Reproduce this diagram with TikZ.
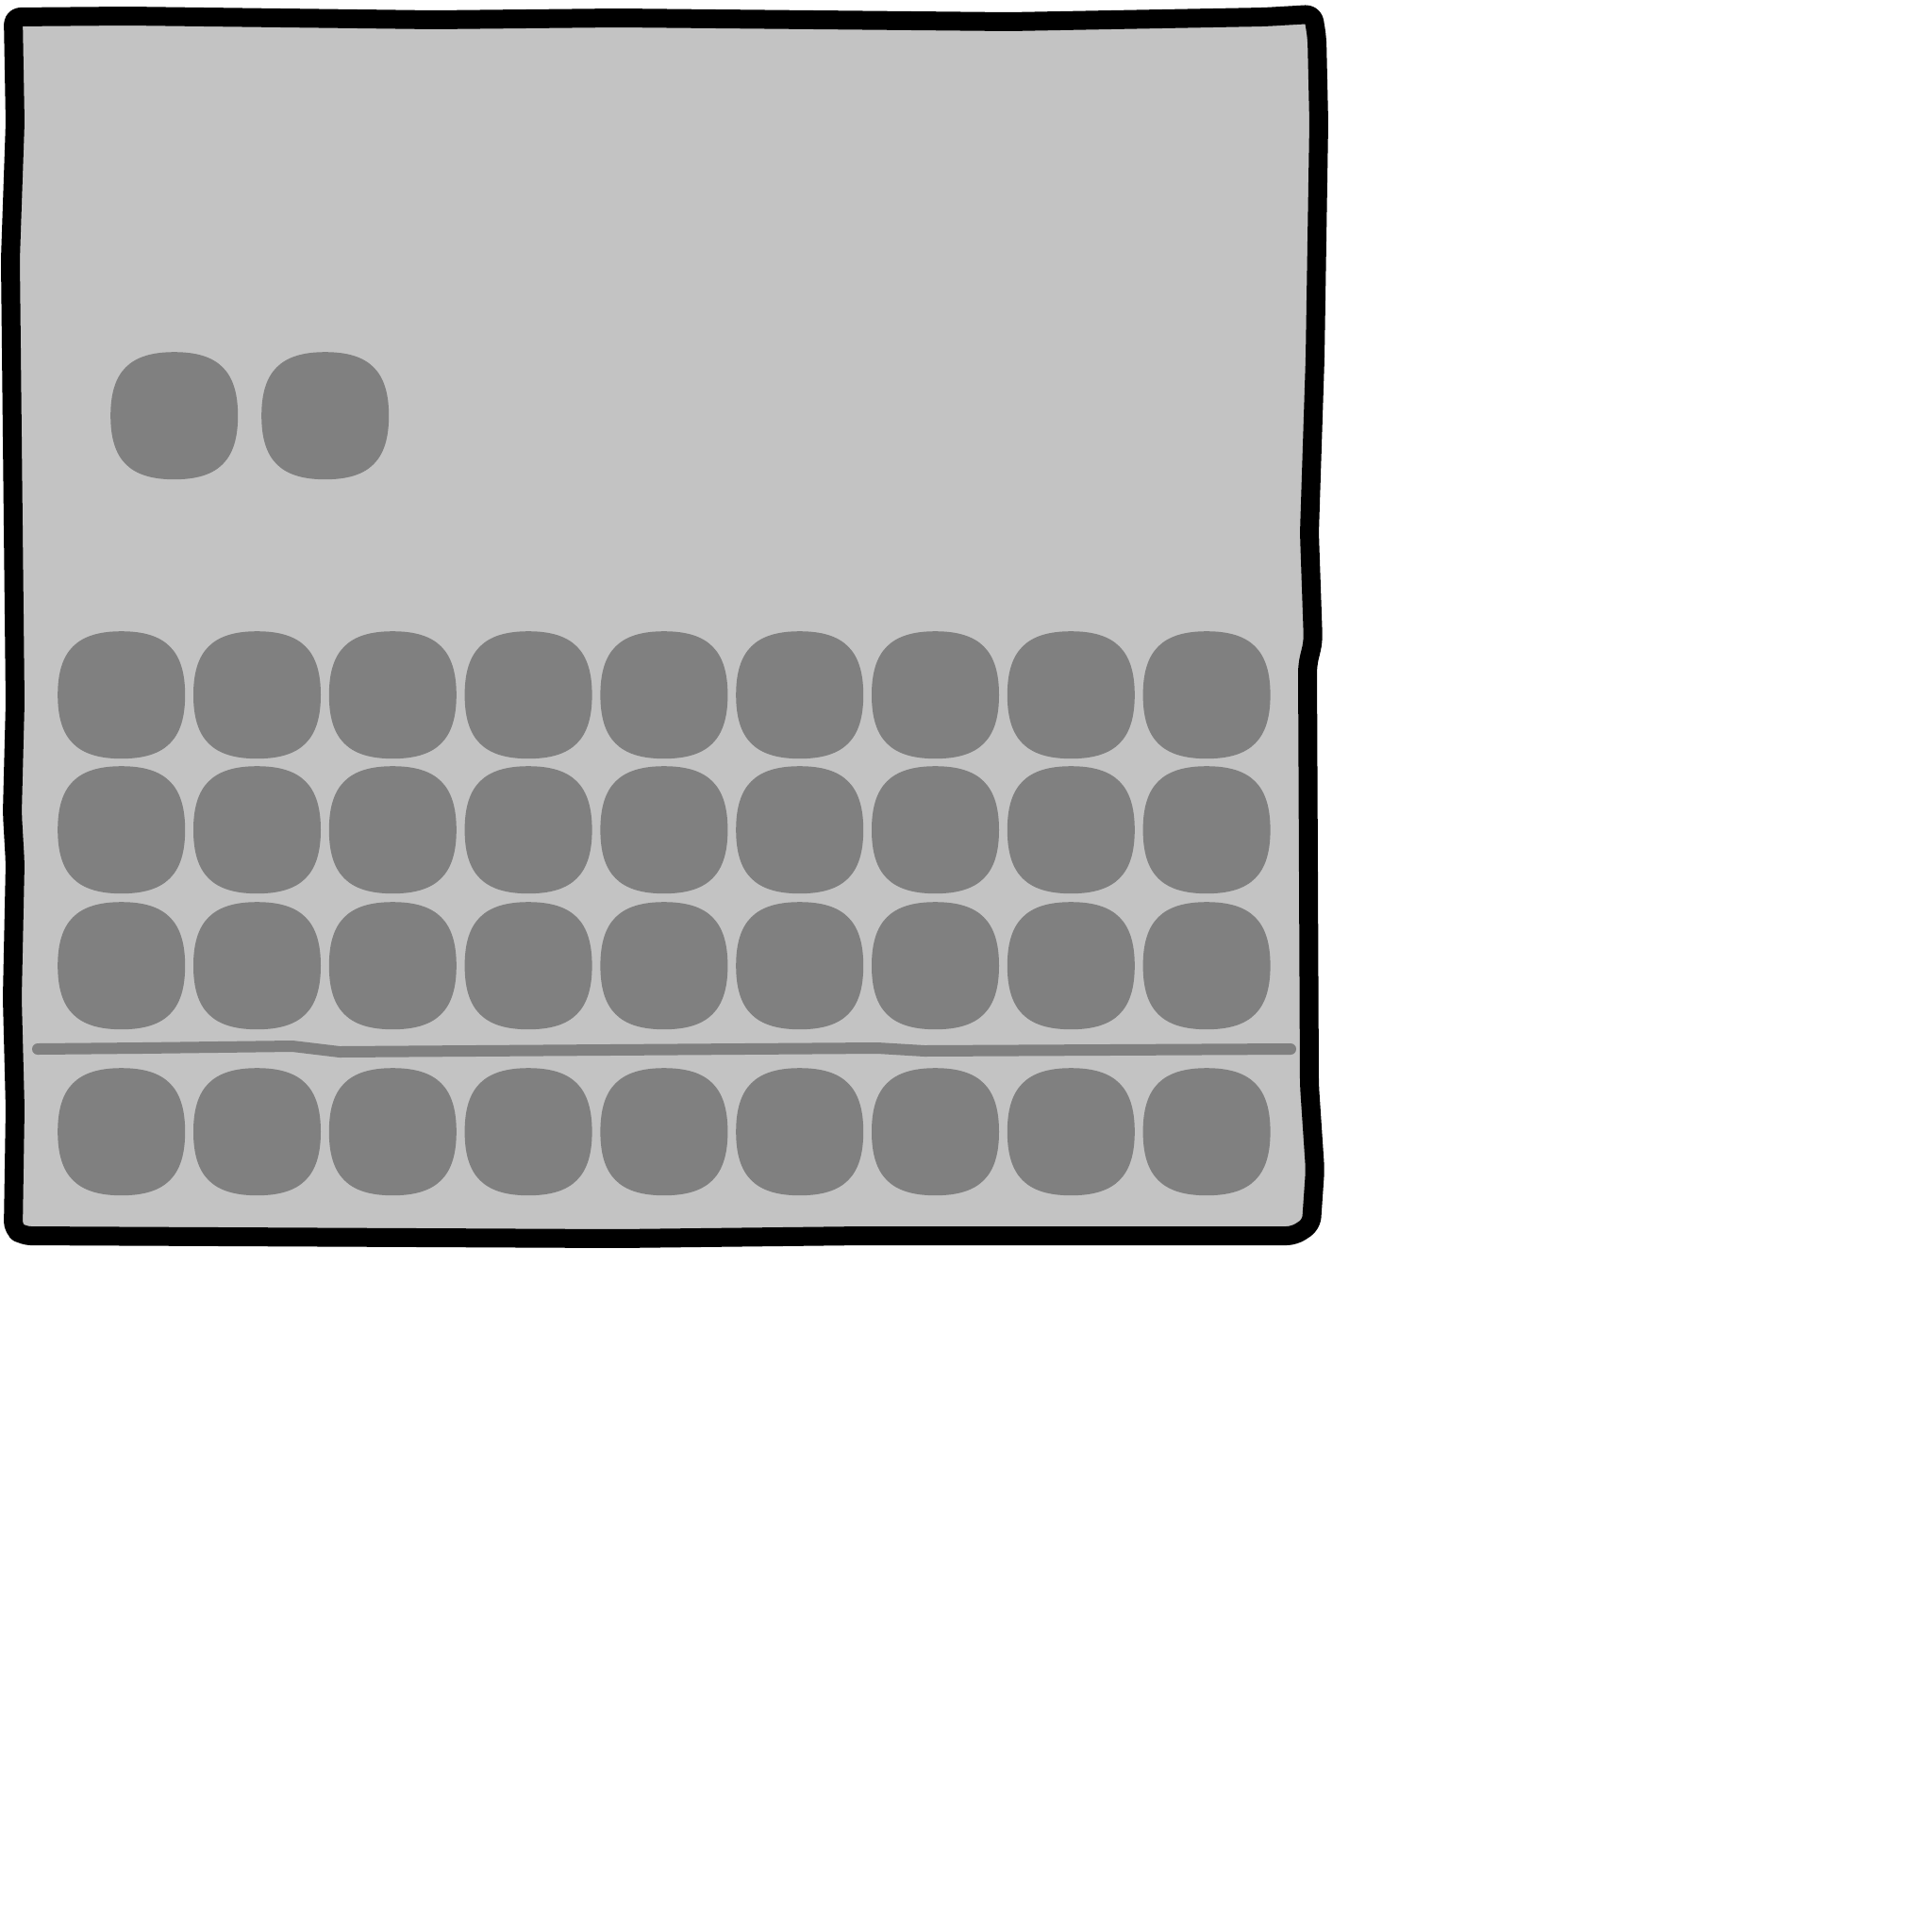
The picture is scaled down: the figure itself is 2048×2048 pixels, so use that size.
\documentclass[tikz,border=0pt]{standalone}
\newcommand{\blobshape}[1]{%
  \fill[blobgray] ([shift={(0,-67.5)}]#1.center)
    .. controls ([shift={(47,-67.5)}]#1.center) and ([shift={(67.5,-47)}]#1.center) .. ([shift={(67.5,0)}]#1.center)
    .. controls ([shift={(67.5,47)}]#1.center) and ([shift={(47,67.5)}]#1.center) .. ([shift={(0,67.5)}]#1.center)
    .. controls ([shift={(-47,67.5)}]#1.center) and ([shift={(-67.5,47)}]#1.center) .. ([shift={(-67.5,0)}]#1.center)
    .. controls ([shift={(-67.5,-47)}]#1.center) and ([shift={(-47,-67.5)}]#1.center) .. ([shift={(0,-67.5)}]#1.center) -- cycle;}
\begin{document}
\begin{tikzpicture}[x=1pt,y=-1pt,
  blob/.style={rectangle,minimum width=135pt,minimum height=135pt,inner sep=0pt,anchor=north west},
  panelframe/.style={draw=black,line width=20pt,fill=panelgray,line join=round,rounded corners=8pt}]
\definecolor{panelgray}{RGB}{195,195,195}
\definecolor{blobgray}{RGB}{128,128,128}
\useasboundingbox (0,0) rectangle (2048,2048);
% outer panel
\path[panelframe] (14,18) -- (135,17) -- (460,21) -- (655,19) -- (1070,23) -- (1340,18) -- (1392,15)
  -- (1396,40) -- (1398,130) -- (1394,380) -- (1388,565) -- (1392,680) -- (1386,705)
  -- (1388,1150) -- (1394,1240) -- (1390,1298) -- (1372,1310)
  -- (915,1310) -- (655,1313) -- (25,1310) -- (14,1303)
  -- (16,1175) -- (13,1058) -- (16,915) -- (13,862) -- (16,745) -- (11,275) -- (16,130) -- cycle;
% top pair
\node[blob] (t1) at (117,373) {};
\node[blob] (t2) at (277,373) {};
\blobshape{t1}\blobshape{t2}
% grid rows
\foreach \r/\y in {1/669,2/812,3/956,4/1132}{
  \foreach \c in {1,...,9}{
    \node[blob] (b\r-\c) at ({61+143.8*(\c-1)},\y) {};
    \blobshape{b\r-\c}
  }
}
% separator
\coordinate (sl) at (40,1112);
\coordinate (sr) at (1368,1112);
\draw[blobgray,line width=12pt,line cap=round] (sl) -- (150,1111) -- (310,1109) -- (360,1115) -- (930,1111) -- (980,1114) -- (sr);
\end{tikzpicture}
\end{document}
